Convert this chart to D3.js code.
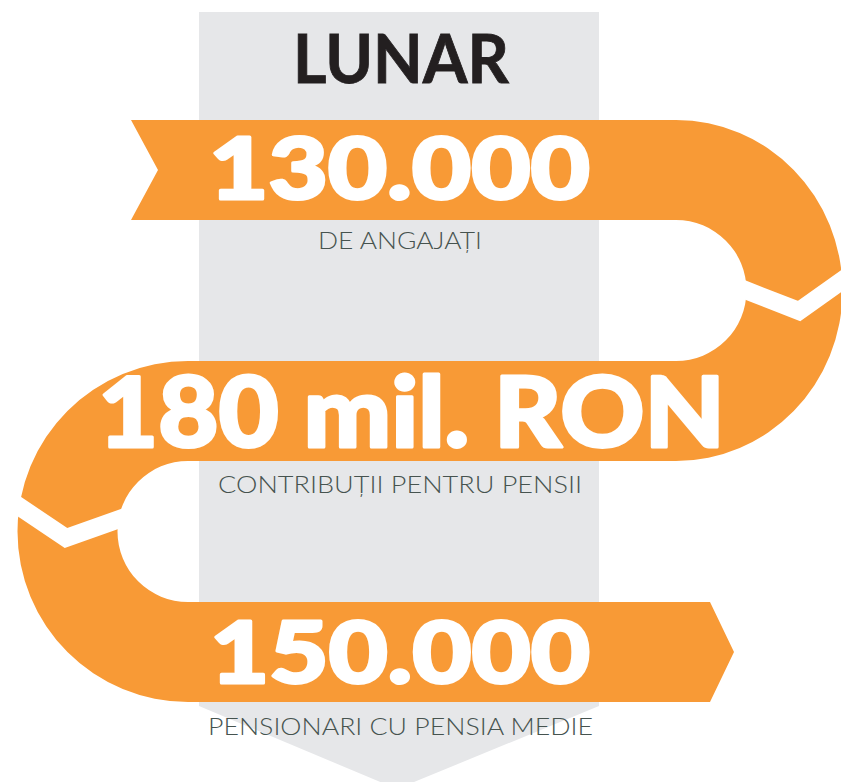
<!DOCTYPE html>
<html>
<head>
<meta charset="utf-8">
<script src="https://cdn.jsdelivr.net/npm/d3@7"></script>
<style>
  body { margin: 0; background: #fff; }
  svg { display: block; }
</style>
</head>
<body>
<svg id="info" width="841" height="782"></svg>
<script>
const WIDTH = 841
const HEIGHT = 782
const ORANGE = "#f89a36"
const GREY = "#e6e7e9"

// content
const title = "LUNAR"
const figures = ["130.000", "180 mil. RON", "150.000"]
const captions = ["DE ANGAJAȚI", "CONTRIBUȚII PENTRU PENSII", "PENSIONARI CU PENSIA MEDIE"]

let svg = d3.select("#info")

// rows of the ribbon
let yScale = d3.scalePoint()
  .domain(figures)
  .range([170, 652])

const BAND = 100          // ribbon thickness
const R_OUT = 170, R_IN = 70
const xLeft = 188, xRight = 676

// grey column with arrow at the bottom
let colX = d3.scaleLinear().domain([0, 1]).range([199, 599])
let grey = d3.path()
grey.moveTo(colX(0), 12)
grey.lineTo(colX(1), 12)
grey.lineTo(colX(1), 706)
grey.lineTo(colX(0.495), 789)
grey.lineTo(colX(0), 706)
grey.closePath()
svg.append("path").attr("d", grey.toString()).attr("fill", GREY)

// ribbon
let y0 = yScale(figures[0]), y1 = yScale(figures[1]), y2 = yScale(figures[2])
let h = BAND / 2
let rib = `M131,${y0 - h} L${xRight},${y0 - h}
  A${R_OUT - 4},${R_OUT} 0 0 1 ${xRight},${y1 + h}
  L${xLeft},${y1 + h}
  A${R_IN},${R_IN} 0 0 0 ${xLeft},${y2 - h}
  L710,${y2 - h} L734,${y2} L710,${y2 + h}
  L${xLeft},${y2 + h}
  A${R_OUT},${R_OUT} 0 0 1 ${xLeft},${y1 - h}
  L${xRight},${y1 - h}
  A${R_IN},${R_IN} 0 0 0 ${xRight},${y0 + h}
  L131,${y0 + h} L158,${y0} Z`
svg.append("path").attr("d", rib).attr("fill", ORANGE)

// white folds in the turns
let line = d3.line()
svg.append("path")
  .attr("d", line([[735, 286], [799, 311], [850, 275]]))
  .attr("fill", "none").attr("stroke", "#fff").attr("stroke-width", 18)
svg.append("path")
  .attr("d", line([[8, 499], [66, 538], [128, 516]]))
  .attr("fill", "none").attr("stroke", "#fff").attr("stroke-width", 18)

// title
svg.append("text")
  .attr("x", 401)
  .attr("y", 83)
  .attr("text-anchor", "middle")
  .attr("font-family", "Lato, 'Open Sans', sans-serif")
  .attr("font-weight", 700)
  .attr("font-size", 66)
  .attr("fill", "#231f20")
  .attr("stroke", "#231f20")
  .attr("stroke-width", 0.8)
  .attr("textLength", 216)
  .attr("lengthAdjust", "spacingAndGlyphs")
  .text(title)

// big numbers
let figX = [399.5, 411.5, 400]
let figW = [381, 627, 380]
let figSize = [86, 98, 86]
let figDy = [29, 36, 31]
svg.selectAll(".fig")
  .data(figures)
  .join("text")
  .attr("class", "fig")
  .attr("x", (d, i) => figX[i])
  .attr("y", (d, i) => yScale(d) + figDy[i])
  .attr("text-anchor", "middle")
  .attr("font-family", "Lato, 'Open Sans', sans-serif")
  .attr("font-weight", 900)
  .attr("font-size", (d, i) => figSize[i])
  .attr("fill", "#fff")
  .attr("stroke", "#fff")
  .attr("stroke-width", 3)
  .attr("stroke-linejoin", "round")
  .attr("textLength", (d, i) => figW[i])
  .attr("lengthAdjust", "spacingAndGlyphs")
  .text(d => d)

// captions
let capX = [400, 400, 400.5]
let capW = [164, 364, 385]
let capDy = [79, 82, 83]
svg.selectAll(".cap")
  .data(captions)
  .join("text")
  .attr("class", "cap")
  .attr("x", (d, i) => capX[i])
  .attr("y", (d, i) => yScale(figures[i]) + capDy[i])
  .attr("text-anchor", "middle")
  .attr("font-family", "Lato, 'Open Sans', sans-serif")
  .attr("font-weight", 300)
  .attr("font-size", 24)
  .attr("fill", "#46534f")
  .attr("textLength", (d, i) => capW[i])
  .attr("lengthAdjust", "spacingAndGlyphs")
  .text(d => d)
</script>
</body>
</html>
